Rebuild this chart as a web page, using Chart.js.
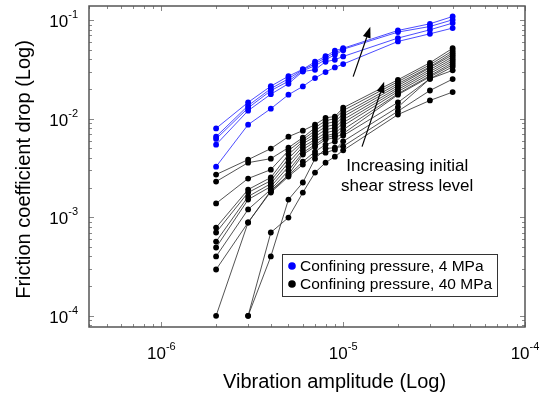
<!DOCTYPE html>
<html>
<head>
<meta charset="utf-8">
<script src="https://cdn.jsdelivr.net/npm/chart.js@4"></script>
<style>
  html, body { margin: 0; padding: 0; background: #fff; }
  #wrap { width: 540px; height: 399px; }
</style>
</head>
<body>
<div id="wrap"><canvas id="chart" width="540" height="399"></canvas></div>
<script>
// ---------------- DATA ----------------
const amplitudes = [2e-6, 3e-6, 4e-6, 5e-6, 6e-6, 7e-6, 8e-6, 9e-6, 1e-5, 2e-5, 3e-5, 4e-5];

// confining pressure 4 MPa
const blue1 = [0.00797, 0.01463, 0.02135, 0.02695, 0.03173, 0.0378, 0.04297, 0.04887, 0.0518, 0.07846, 0.09173, 0.10877];
const blue2 = [0.00657, 0.01354, 0.02014, 0.02543, 0.03136, 0.03608, 0.0415, 0.04663, 0.05061, 0.07555, 0.08612, 0.1007];
const blue3 = [0.00623, 0.01284, 0.01922, 0.02399, 0.03064, 0.03444, 0.03961, 0.0445, 0.04943, null, null, null];
const blue4 = [0.00545, 0.01205, 0.01771, 0.02262, 0.03011, 0.03136, 0.0378, 0.03961, 0.04277, 0.06569, 0.07972, 0.09324];
const blue5 = [0.00326, 0.00869, 0.01263, 0.0175, 0.02125, 0.02584, 0.02973, 0.0331, 0.03582, 0.0607, 0.07264, 0.08297];

// confining pressure 40 MPa
const black1 = [0.00271, 0.00384, 0.00497, 0.00657, 0.00756, 0.00869, 0.0102, 0.0105, 0.0129, 0.0248, 0.0369, 0.0518];
const black2 = [0.0023, 0.00358, 0.00393, 0.00508, 0.00642, 0.0081, 0.00954, 0.01, 0.0121, 0.0237, 0.0352, 0.0489];
const black3 = [0.00138, 0.00247, 0.00304, 0.00474, 0.00613, 0.00756, 0.0089, 0.00932, 0.0112, 0.0226, 0.0336, 0.0466];
const black4 = [0.000786, 0.00191, 0.00253, 0.00432, 0.00585, 0.00705, 0.0083, 0.00869, 0.0105, 0.0216, 0.0329, 0.0445];
const black5 = [0.0007, 0.00178, 0.00235, 0.00393, 0.00558, 0.00657, 0.00774, 0.0081, 0.00977, 0.0206, 0.0314, 0.0425];
const black6 = [0.000567, 0.00162, 0.00219, 0.00358, 0.0052, 0.00613, 0.00721, 0.00756, 0.00911, 0.0197, 0.03, 0.0405];
const black7 = [0.000493, 0.00151, 0.00205, 0.00326, 0.00485, 0.00585, 0.00673, 0.00705, 0.00849, 0.0188, 0.0286, 0.0387];
const black8 = [0.0004, 0.0012, 0.00191, 0.00297, 0.00452, 0.00545, 0.00642, 0.00673, 0.00774, 0.0179, 0.0273, 0.0369];
const black9 = [0.000295, 0.000884, 0.00182, 0.00271, 0.00432, 0.0052, 0.00613, 0.00642, 0.00705, 0.0175, 0.0266, 0.0352];
const black10 = [0.0001, 0.000884, 0.00186, 0.00265, 0.00367, 0.00463, 0.00545, 0.00585, 0.00673, 0.0146, 0.0254, 0.0336];
const black11 = [null, null, 0.00178, 0.00259, 0.00342, 0.00432, 0.00452, 0.00485, 0.00589, 0.0131, 0.0254, 0.0309];
const black12 = [null, 0.0001, 0.0004, 0.00151, 0.00225, 0.00393, 0.00497, 0.00508, 0.00524, 0.0119, 0.0193, 0.0252];
const black13 = [null, 0.0001, 0.0007, 0.000993, 0.00178, 0.00284, 0.00358, 0.00412, 0.00477, 0.011, 0.0153, 0.0186];

const blueSeries = [blue1, blue2, blue3, blue4, blue5];
const blackSeries = [black1, black2, black3, black4, black5, black6, black7, black8, black9, black10, black11, black12, black13];

const xTicks = [1e-6, 1e-5, 1e-4];
const yTicks = [1e-4, 1e-3, 1e-2, 1e-1];
const legendLabels = ["Confining pressure, 4 MPa", "Confining pressure, 40 MPa"];
const xTitle = "Vibration amplitude (Log)";
const yTitle = "Friction coefficient drop (Log)";
const noteLines = ["Increasing initial", "shear stress level"];

// arrows, in data coordinates [x, y]
const arrows = [
  { from: [1.135e-5, 0.0267], to: [1.41e-5, 0.0855] },
  { from: [1.27e-5, 0.0052], to: [1.68e-5, 0.0237] },
];

const FONT = "'Liberation Sans', Arial, sans-serif";
const BLUE = "#0000ff";

// ---------------- DATASETS ----------------
function toPoints(values) {
  return amplitudes.map((x, i) => ({ x: x, y: values[i] }));
}

const datasets = [];
blackSeries.forEach((s) => {
  datasets.push({
    data: toPoints(s),
    borderColor: "rgba(40,40,40,0.8)",
    backgroundColor: "#000",
    pointBackgroundColor: "#000",
    pointBorderWidth: 0,
    pointRadius: 2.9,
    borderWidth: 1,
    spanGaps: false,
  });
});
blueSeries.forEach((s) => {
  datasets.push({
    data: toPoints(s),
    borderColor: "rgba(0,0,255,0.7)",
    backgroundColor: BLUE,
    pointBackgroundColor: BLUE,
    pointBorderWidth: 0,
    pointRadius: 2.9,
    borderWidth: 1,
    spanGaps: false,
  });
});

// ---------------- DECORATIONS ----------------
function logTicks(min, max) {
  const out = [];
  for (let e = Math.floor(Math.log10(min)); e <= Math.ceil(Math.log10(max)); e++) {
    for (let m = 1; m <= 9; m++) {
      const v = m * Math.pow(10, e);
      if (v >= min * 0.999 && v <= max * 1.001) out.push({ v: v, major: m === 1 });
    }
  }
  return out;
}

function powerLabel(ctx, v, x, y, align) {
  const exp = String(Math.round(Math.log10(v)));
  ctx.font = "17px " + FONT;
  const wBase = ctx.measureText("10").width;
  ctx.font = "11px " + FONT;
  const wExp = ctx.measureText(exp).width;
  const total = wBase + wExp;
  let left = x;
  if (align === "center") left = x - total / 2;
  if (align === "right") left = x - total;
  ctx.textAlign = "left";
  ctx.textBaseline = "alphabetic";
  ctx.font = "17px " + FONT;
  ctx.fillText("10", left, y);
  ctx.font = "11px " + FONT;
  ctx.fillText(exp, left + wBase, y - 9);
}

const decor = {
  id: "decor",
  afterDraw(chart) {
    const ctx = chart.ctx;
    const a = chart.chartArea;
    const xs = chart.scales.x;
    const ys = chart.scales.y;
    ctx.save();

    // tick marks, inward on all sides
    ctx.strokeStyle = "#888";
    ctx.lineWidth = 1;
    logTicks(xs.min, xs.max).forEach((t) => {
      const px = Math.round(xs.getPixelForValue(t.v)) + 0.5;
      const len = t.major ? 5 : 3;
      ctx.beginPath();
      ctx.moveTo(px, a.bottom);
      ctx.lineTo(px, a.bottom - len);
      ctx.moveTo(px, a.top);
      ctx.lineTo(px, a.top + len);
      ctx.stroke();
    });
    logTicks(ys.min, ys.max).forEach((t) => {
      const py = Math.round(ys.getPixelForValue(t.v)) + 0.5;
      const len = t.major ? 5 : 3;
      ctx.beginPath();
      ctx.moveTo(a.left, py);
      ctx.lineTo(a.left + len, py);
      ctx.moveTo(a.right, py);
      ctx.lineTo(a.right - len, py);
      ctx.stroke();
    });

    // frame
    ctx.strokeStyle = "#555";
    ctx.lineWidth = 1.5;
    ctx.strokeRect(a.left, a.top, a.right - a.left, a.bottom - a.top);

    // tick labels
    ctx.fillStyle = "#000";
    xTicks.forEach((v) => powerLabel(ctx, v, xs.getPixelForValue(v), a.bottom + 32, "center"));
    yTicks.forEach((v) => powerLabel(ctx, v, a.left - 11, ys.getPixelForValue(v) + 7, "right"));

    // axis titles
    ctx.font = "20px " + FONT;
    ctx.textAlign = "left";
    ctx.textBaseline = "middle";
    ctx.fillText(xTitle, 223, 382);
    ctx.save();
    ctx.translate(24, (a.top + a.bottom) / 2 + 3);
    ctx.rotate(-Math.PI / 2);
    ctx.textAlign = "center";
    ctx.fillText(yTitle, 0, 0);
    ctx.restore();

    // arrows
    ctx.strokeStyle = "#000";
    ctx.fillStyle = "#000";
    ctx.lineWidth = 1.2;
    arrows.forEach((ar) => {
      const x0 = xs.getPixelForValue(ar.from[0]);
      const y0 = ys.getPixelForValue(ar.from[1]);
      const x1 = xs.getPixelForValue(ar.to[0]);
      const y1 = ys.getPixelForValue(ar.to[1]);
      const ang = Math.atan2(y1 - y0, x1 - x0);
      const hl = 11, hw = 4;
      const bx = x1 - hl * Math.cos(ang);
      const by = y1 - hl * Math.sin(ang);
      ctx.beginPath();
      ctx.moveTo(x0, y0);
      ctx.lineTo(bx, by);
      ctx.stroke();
      ctx.beginPath();
      ctx.moveTo(x1, y1);
      ctx.lineTo(bx + hw * Math.sin(ang), by - hw * Math.cos(ang));
      ctx.lineTo(bx - hw * Math.sin(ang), by + hw * Math.cos(ang));
      ctx.closePath();
      ctx.fill();
    });

    // note text
    ctx.font = "17px " + FONT;
    ctx.textAlign = "center";
    ctx.textBaseline = "middle";
    const nx = xs.getPixelForValue(2.25e-5);
    ctx.fillText(noteLines[0], nx, ys.getPixelForValue(3.27e-3));
    ctx.fillText(noteLines[1], nx, ys.getPixelForValue(2.05e-3));

    // legend box
    const lx = 282, ly = 254, lw = 215, lh = 42;
    ctx.fillStyle = "#fff";
    ctx.fillRect(lx, ly, lw, lh);
    ctx.strokeStyle = "#333";
    ctx.lineWidth = 1;
    ctx.strokeRect(lx + 0.5, ly + 0.5, lw, lh);
    const colors = [BLUE, "#000"];
    legendLabels.forEach((txt, i) => {
      const cy = ly + 12 + i * 18;
      ctx.fillStyle = colors[i];
      ctx.beginPath();
      ctx.arc(lx + 10, cy, 3.8, 0, Math.PI * 2);
      ctx.fill();
      ctx.fillStyle = "#000";
      ctx.font = "15.5px " + FONT;
      ctx.textAlign = "left";
      ctx.textBaseline = "middle";
      ctx.fillText(txt, lx + 18, cy + 1);
    });

    ctx.restore();
  },
};

// ---------------- CHART ----------------
const chart = new Chart(document.getElementById("chart"), {
  type: "line",
  data: { datasets },
  options: {
    responsive: false,
    animation: false,
    devicePixelRatio: 1,
    layout: { padding: { left: 89, top: 6, right: 15, bottom: 72 } },
    plugins: {
      legend: { display: false },
      tooltip: { enabled: false },
    },
    scales: {
      x: { type: "logarithmic", min: 4e-7, max: 1e-4, display: false },
      y: { type: "logarithmic", min: 7.7e-5, max: 0.139, display: false },
    },
  },
  plugins: [decor],
});
</script>
</body>
</html>
